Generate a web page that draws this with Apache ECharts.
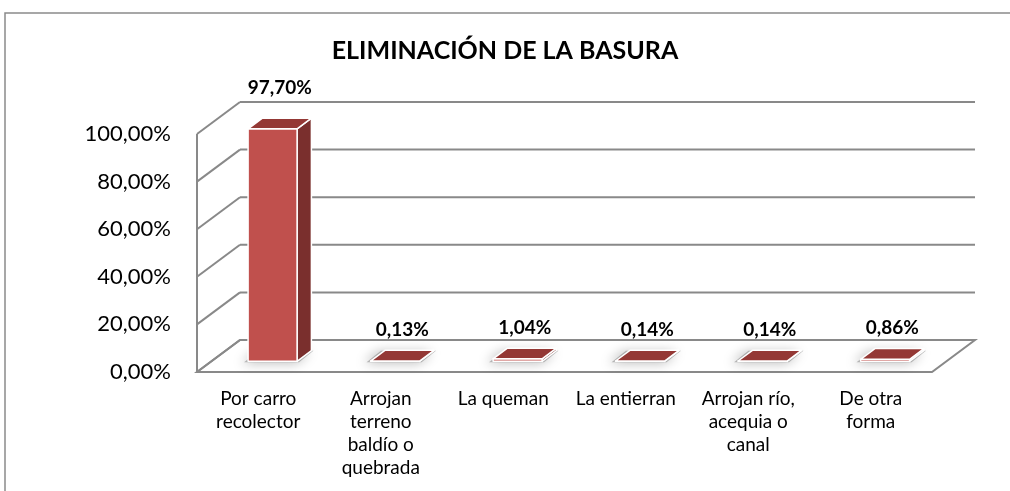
<!DOCTYPE html>
<html>
<head>
<meta charset="utf-8">
<script src="https://cdn.jsdelivr.net/npm/echarts@6/dist/echarts.min.js"></script>
<style>
  html, body { margin: 0; padding: 0; background: #fff; }
  #chart { width: 1010px; height: 491px; }
</style>
</head>
<body>
<div id="chart"></div>
<script>
// Categories, values (percent) and value-axis ticks
const categories = [
  'Por carro\nrecolector',
  'Arrojan\nterreno\nbaldío o\nquebrada',
  'La queman',
  'La entierran',
  'Arrojan río,\nacequia o\ncanal',
  'De otra\nforma'
];
const values = [97.70, 0.13, 1.04, 0.14, 0.14, 0.86];
const yTicks = [0, 20, 40, 60, 80, 100];

// Depth of the 3D box in pixels (front plane -> back wall)
const DX = 43, DY = -32;
const GRID_COLOR = '#898989';

function pct(v) {
  return v.toFixed(2).replace('.', ',') + '%';
}

const chart = echarts.init(document.getElementById('chart'));

// Walls and floor of the 3D box, one gridline per tick
function renderWalls(params, api) {
  const cs = params.coordSys;
  const v = api.value(1);
  const y = api.coord([0, v])[1];
  const xl = cs.x, xr = cs.x + cs.width;
  const lineStyle = { stroke: GRID_COLOR, lineWidth: 2 };
  const children = [];
  if (v === yTicks[0]) {
    const yb = cs.y + cs.height;
    children.push({
      type: 'polygon',
      shape: { points: [[xl, yb], [xr, yb], [xr + DX, yb + DY], [xl + DX, yb + DY]] },
      style: { fill: '#fff', stroke: GRID_COLOR, lineWidth: 2 }
    });
    children.push({
      type: 'line',
      shape: { x1: xl, y1: cs.y, x2: xl, y2: yb },
      style: lineStyle
    });
  }
  children.push({
    type: 'line',
    shape: { x1: xl + DX, y1: y + DY, x2: xr + DX, y2: y + DY },
    style: lineStyle
  });
  children.push({
    type: 'line',
    shape: { x1: xl, y1: y, x2: xl + DX, y2: y + DY },
    style: lineStyle
  });
  return { type: 'group', children: children };
}

// 3D column: front face, side, top, soft floor shadow and value label
function renderBar(params, api) {
  const i = api.value(0);
  const v = api.value(1);
  const top = api.coord([i, v]);
  const base = api.coord([i, 0]);
  const w = api.size([1, 0])[0] * 0.4;
  const fx = DX / 3, fy = DY / 3, bx = DX * 2 / 3, by = DY * 2 / 3;
  const L = top[0] - w / 2, R = top[0] + w / 2;
  const yt = top[1], yb = base[1];
  const edge = { stroke: '#ffffff', lineWidth: 1.5, lineJoin: 'round' };
  return {
    type: 'group',
    children: [
      {
        type: 'polygon',
        shape: { points: [[L + fx - 4, yb + fy + 1], [R + fx + 2, yb + fy + 1], [R + bx + 2, yb + by], [L + bx - 4, yb + by]] },
        style: { fill: 'rgba(110,110,110,0.45)', shadowBlur: 12, shadowColor: 'rgba(0,0,0,0.6)', shadowOffsetX: -3, shadowOffsetY: 1 }
      },
      {
        type: 'polygon',
        shape: { points: [[R + fx, yt + fy], [R + bx, yt + by], [R + bx, yb + by], [R + fx, yb + fy]] },
        style: Object.assign({ fill: '#7a2f2d' }, edge)
      },
      {
        type: 'polygon',
        shape: { points: [[L + fx, yt + fy], [R + fx, yt + fy], [R + fx, yb + fy], [L + fx, yb + fy]] },
        style: Object.assign({ fill: '#c0504d' }, edge)
      },
      {
        type: 'polygon',
        shape: { points: [[L + fx, yt + fy], [R + fx, yt + fy], [R + bx, yt + by], [L + bx, yt + by]] },
        style: Object.assign({ fill: '#943835' }, edge)
      },
      {
        type: 'text',
        style: {
          text: pct(v),
          x: top[0] + DX / 2,
          y: yt + DY / 2 - 26 - (yb - yt) * 0.04,
          align: 'center',
          verticalAlign: 'middle',
          font: 'bold 19px Lato',
          fill: '#000'
        }
      }
    ]
  };
}

chart.setOption({
  animation: false,
  backgroundColor: '#fff',
  graphic: [{
    type: 'rect',
    shape: { x: 5, y: 13, width: 1100, height: 600 },
    style: { fill: 'none', stroke: '#8a8a8a', lineWidth: 1.5 },
    z: -10
  }],
  title: {
    text: 'ELIMINACIÓN DE LA BASURA',
    left: 'center',
    top: 33,
    textStyle: { fontFamily: 'Lato', fontWeight: 'bold', fontSize: 25, color: '#000' }
  },
  grid: { left: 197, top: 134, width: 735, height: 238 },
  xAxis: {
    type: 'category',
    data: categories,
    axisLine: { show: false },
    axisTick: { show: false },
    axisLabel: {
      interval: 0,
      margin: 15,
      fontFamily: 'Lato',
      fontSize: 19,
      lineHeight: 23,
      color: '#000',
      align: 'center'
    }
  },
  yAxis: {
    type: 'value',
    min: 0,
    max: 100,
    interval: 20,
    axisLine: { show: false },
    axisTick: { show: false },
    splitLine: { show: false },
    axisLabel: {
      margin: 26,
      fontFamily: 'Lato',
      fontSize: 22,
      color: '#000',
      padding: [6, 0, 0, 0],
      formatter: pct
    }
  },
  series: [
    {
      type: 'custom',
      renderItem: renderWalls,
      data: yTicks.map(t => [0, t]),
      z: 1,
      silent: true
    },
    {
      type: 'custom',
      renderItem: renderBar,
      data: values.map((v, i) => [i, v]),
      z: 5
    }
  ]
});
</script>
</body>
</html>
